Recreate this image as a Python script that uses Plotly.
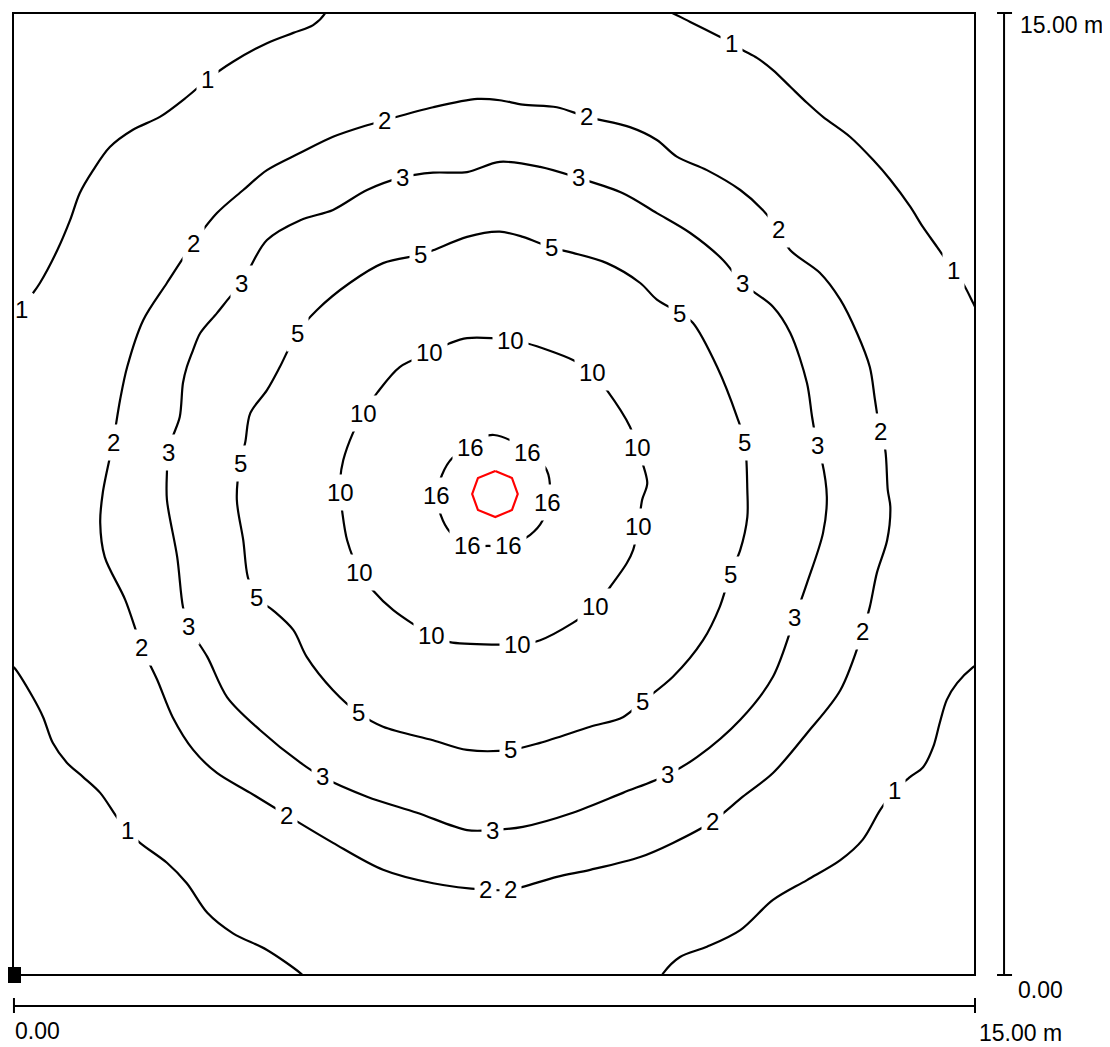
import plotly.graph_objects as go

# ---- data (metres) ----
LEVEL_TEXT = ["1", "2", "3", "5", "10", "16"]

iso1_nw = [(4.90, 15.08), (4.87, 15.00), (4.68, 14.81), (4.37, 14.69), (3.96, 14.53), (3.43, 14.24),
           (3.03, 13.96), (2.71, 13.69), (2.29, 13.38), (1.87, 13.18), (1.51, 12.91), (1.25, 12.55),
           (1.04, 12.19), (0.89, 11.77), (0.69, 11.30), (0.42, 10.79), (0.31, 10.63)]
iso1_ne = [(10.09, 15.08), (10.28, 15.00), (10.56, 14.86), (11.02, 14.63), (11.21, 14.53), (11.38, 14.42),
           (11.60, 14.30), (11.85, 14.11), (12.12, 13.85), (12.38, 13.60), (12.63, 13.38), (13.05, 13.07),
           (13.41, 12.71), (13.68, 12.40), (13.99, 11.98), (14.19, 11.66), (14.41, 11.35), (14.66, 10.99),
           (14.81, 10.79), (14.97, 10.48), (15.06, 10.29)]
iso1_sw = [(-0.06, 4.85), (0.02, 4.79), (0.31, 4.33), (0.47, 4.02), (0.62, 3.62), (0.84, 3.31),
           (1.09, 3.09), (1.36, 2.84), (1.62, 2.46), (1.78, 2.26), (1.98, 2.06), (2.40, 1.75),
           (2.71, 1.43), (3.03, 0.97), (3.43, 0.65), (3.96, 0.39), (4.48, 0.03), (4.57, -0.06)]
iso1_se = [(10.09, -0.06), (10.14, 0.03), (10.40, 0.28), (10.82, 0.44), (11.34, 0.70), (11.85, 1.17),
           (12.38, 1.48), (12.90, 1.79), (13.25, 2.11), (13.52, 2.57), (13.75, 2.88), (13.99, 3.09),
           (14.19, 3.24), (14.35, 3.56), (14.45, 3.93), (14.56, 4.29), (14.72, 4.55), (14.97, 4.80),
           (15.08, 4.87)]
iso1_labels = [(3.03, 13.96), (11.21, 14.53), (14.66, 10.99), (1.78, 2.26), (13.75, 2.88)]
iso1_edge_labels = [(0.14, 10.37)]

iso2 = [(5.80, 13.33), (5.52, 13.25), (4.99, 13.07), (4.48, 12.82), (3.96, 12.55), (3.59, 12.24),
        (3.18, 11.88), (2.81, 11.41), (2.40, 10.79), (2.03, 10.21), (1.78, 9.48), (1.67, 8.97),
        (1.56, 8.31), (1.40, 7.52), (1.36, 7.05), (1.43, 6.52), (1.75, 5.85), (2.01, 5.11),
        (2.25, 4.60), (2.49, 4.02), (2.81, 3.51), (3.18, 3.15), (3.70, 2.84), (4.27, 2.49),
        (4.99, 2.06), (5.77, 1.64), (6.55, 1.43), (7.36, 1.33), (7.75, 1.33), (8.48, 1.53),
        (9.00, 1.64), (9.78, 1.84), (10.29, 2.06), (10.90, 2.39), (11.38, 2.78), (11.85, 3.15),
        (12.38, 3.77), (12.90, 4.44), (13.25, 5.35), (13.36, 5.74), (13.47, 6.27), (13.63, 6.78),
        (13.68, 7.30), (13.64, 7.56), (13.60, 8.19), (13.52, 8.47), (13.44, 8.97), (13.36, 9.48),
        (13.16, 10.01), (12.90, 10.53), (12.58, 10.95), (12.12, 11.30), (11.93, 11.62), (11.69, 11.93),
        (11.34, 12.24), (10.82, 12.55), (10.35, 12.76), (10.04, 13.02), (9.62, 13.22), (8.95, 13.38),
        (8.48, 13.53), (7.95, 13.57), (7.59, 13.64), (7.24, 13.66), (6.55, 13.53), (5.80, 13.33)]
iso2_labels = [(5.80, 13.33), (2.81, 11.41), (1.56, 8.31), (2.01, 5.11), (4.27, 2.49), (7.36, 1.33),
               (7.75, 1.33), (10.90, 2.39), (13.25, 5.35), (13.52, 8.47), (11.93, 11.62), (8.95, 13.38)]

iso3 = [(6.08, 12.44), (5.52, 12.24), (4.99, 11.93), (4.48, 11.77), (3.96, 11.46), (3.70, 11.04),
        (3.57, 10.79), (3.38, 10.57), (3.18, 10.32), (2.92, 10.01), (2.81, 9.75), (2.71, 9.48),
        (2.65, 9.23), (2.60, 8.70), (2.49, 8.39), (2.42, 8.14), (2.40, 7.83), (2.40, 7.41),
        (2.56, 6.52), (2.65, 5.74), (2.74, 5.43), (3.03, 4.96), (3.34, 4.33), (3.85, 3.82),
        (4.48, 3.31), (4.82, 3.09), (5.52, 2.78), (6.30, 2.53), (7.08, 2.26), (7.48, 2.26),
        (7.95, 2.31), (8.73, 2.53), (9.51, 2.84), (10.20, 3.12), (10.67, 3.40), (11.34, 3.98),
        (11.85, 4.65), (12.19, 5.57), (12.38, 6.11), (12.63, 6.89), (12.69, 7.45), (12.61, 8.03),
        (12.54, 8.26), (12.46, 8.70), (12.38, 9.23), (12.12, 10.01), (11.85, 10.42), (11.37, 10.79),
        (11.07, 11.15), (10.56, 11.57), (10.04, 11.88), (9.51, 12.19), (8.81, 12.43), (8.22, 12.60),
        (7.59, 12.68), (7.08, 12.52), (6.55, 12.51), (6.08, 12.44)]
iso3_labels = [(6.08, 12.44), (3.57, 10.79), (2.42, 8.14), (2.74, 5.43), (4.82, 3.09), (7.48, 2.26),
               (10.20, 3.12), (12.19, 5.57), (12.54, 8.26), (11.37, 10.79), (8.81, 12.43)]

iso5 = [(6.35, 11.23), (5.77, 11.10), (5.25, 10.79), (4.74, 10.37), (4.43, 10.01), (4.16, 9.48),
        (3.96, 9.12), (3.70, 8.76), (3.62, 8.30), (3.54, 7.98), (3.49, 7.41), (3.59, 6.78),
        (3.66, 6.21), (3.79, 5.89), (4.05, 5.69), (4.37, 5.38), (4.58, 4.96), (4.99, 4.44),
        (5.38, 4.09), (5.77, 3.87), (6.55, 3.66), (7.08, 3.51), (7.75, 3.51), (8.22, 3.62),
        (9.00, 3.87), (9.51, 4.02), (9.81, 4.26), (10.29, 4.65), (10.76, 5.22), (11.02, 5.74),
        (11.18, 6.24), (11.34, 6.63), (11.45, 7.14), (11.45, 7.56), (11.41, 8.31), (11.29, 8.70),
        (10.98, 9.48), (10.60, 10.17), (10.40, 10.32), (10.04, 10.53), (9.78, 10.79), (9.26, 11.10),
        (8.73, 11.26), (8.40, 11.34), (7.95, 11.51), (7.59, 11.59), (7.08, 11.51), (6.55, 11.30),
        (6.35, 11.23)]
iso5_labels = [(6.35, 11.23), (4.43, 10.01), (3.54, 7.98), (3.79, 5.89), (5.38, 4.09), (7.75, 3.51),
               (9.81, 4.26), (11.18, 6.24), (11.41, 8.31), (10.40, 10.32), (8.40, 11.34)]

iso10 = [(7.75, 9.90), (7.08, 9.93), (6.81, 9.85), (6.50, 9.70), (6.03, 9.48), (5.68, 9.08),
         (5.46, 8.76), (5.30, 8.45), (5.15, 8.03), (5.10, 7.72), (5.10, 7.52), (5.13, 7.25),
         (5.21, 6.78), (5.41, 6.28), (5.61, 6.00), (5.93, 5.69), (6.53, 5.30), (6.81, 5.19),
         (7.59, 5.15), (7.87, 5.15), (8.22, 5.22), (8.73, 5.49), (9.08, 5.74), (9.31, 6.05),
         (9.57, 6.42), (9.67, 6.63), (9.75, 6.99), (9.81, 7.41), (9.89, 7.67), (9.73, 8.23),
         (9.62, 8.55), (9.26, 9.12), (9.03, 9.40), (8.73, 9.59), (8.01, 9.85), (7.75, 9.90)]
iso10_labels = [(7.75, 9.90), (6.50, 9.70), (5.46, 8.76), (5.10, 7.52), (5.41, 6.28), (6.53, 5.30),
                (7.87, 5.15), (9.08, 5.74), (9.75, 6.99), (9.73, 8.23), (9.03, 9.40)]

iso16 = [(7.13, 8.23), (7.28, 8.37), (7.50, 8.42), (7.75, 8.34), (8.03, 8.14), (8.30, 7.91),
         (8.37, 7.67), (8.33, 7.36), (8.26, 7.09), (8.06, 6.86), (7.72, 6.70), (7.41, 6.69),
         (7.09, 6.70), (6.81, 6.91), (6.67, 7.17), (6.61, 7.48), (6.69, 7.80), (6.85, 8.06),
         (7.13, 8.23)]
iso16_labels = [(7.13, 8.23), (8.03, 8.14), (8.33, 7.36), (7.72, 6.70), (7.09, 6.70), (6.61, 7.48)]

max_ring = [(7.52, 7.86), (7.78, 7.75), (7.87, 7.50), (7.78, 7.25), (7.52, 7.14), (7.25, 7.25),
            (7.16, 7.50), (7.25, 7.75), (7.52, 7.86)]

origin_marker = [(0.0, 0.0)]
scale_labels = ["0.00", "15.00 m"]

# ---- figure ----
FONT = "Liberation Sans, Arial, sans-serif"
fig = go.Figure()


def add_curve(pts, color="black", smooth=True):
    fig.add_trace(go.Scatter(
        x=[p[0] for p in pts], y=[p[1] for p in pts], mode="lines",
        line=dict(color=color, width=2.2, shape="spline" if smooth else "linear", smoothing=0.9),
        hoverinfo="skip", showlegend=False))


for piece in (iso1_nw, iso1_ne, iso1_sw, iso1_se, iso2, iso3, iso5, iso10, iso16):
    add_curve(piece)
add_curve(max_ring, color="#ff0000", smooth=False)

fig.add_trace(go.Scatter(
    x=[p[0] for p in origin_marker], y=[p[1] for p in origin_marker], mode="markers",
    marker=dict(symbol="square", size=16, color="black"), cliponaxis=False,
    hoverinfo="skip", showlegend=False))

LABEL_SIZE = 24
annotations = []
for text, labels in zip(LEVEL_TEXT, (iso1_labels, iso2_labels, iso3_labels, iso5_labels,
                                     iso10_labels, iso16_labels)):
    for (lx, ly) in labels:
        annotations.append(dict(x=lx, y=ly, xref="x", yref="y", text=text, showarrow=False,
                                font=dict(family=FONT, size=LABEL_SIZE, color="black"),
                                bgcolor="white", borderpad=4))
for (lx, ly) in iso1_edge_labels:
    annotations.append(dict(x=lx, y=ly, xref="x", yref="y", text=LEVEL_TEXT[0], showarrow=False,
                            font=dict(family=FONT, size=LABEL_SIZE, color="black")))

sfont = dict(family=FONT, size=23, color="black")
annotations += [
    dict(x=0.0, y=-0.058, xref="paper", yref="paper", text=scale_labels[0], showarrow=False,
         xanchor="left", yanchor="middle", font=sfont),
    dict(x=1.002, y=-0.060, xref="paper", yref="paper", text=scale_labels[1], showarrow=False,
         xanchor="left", yanchor="middle", font=sfont),
    dict(x=1.045, y=0.988, xref="paper", yref="paper", text=scale_labels[1], showarrow=False,
         xanchor="left", yanchor="middle", font=sfont),
    dict(x=1.043, y=-0.016, xref="paper", yref="paper", text=scale_labels[0], showarrow=False,
         xanchor="left", yanchor="middle", font=sfont),
]

ln = dict(color="black", width=2)
shapes = [
    dict(type="rect", xref="paper", yref="paper", x0=0, y0=0, x1=1, y1=1, line=ln),
    # horizontal scale bar
    dict(type="line", xref="paper", yref="paper", x0=0.001, x1=1.0, y0=-0.0322, y1=-0.0322, line=ln),
    dict(type="line", xref="paper", yref="paper", x0=0.001, x1=0.001, y0=-0.0239, y1=-0.0395, line=ln),
    dict(type="line", xref="paper", yref="paper", x0=1.0, x1=1.0, y0=-0.0239, y1=-0.0395, line=ln),
    # vertical scale bar
    dict(type="line", xref="paper", yref="paper", x0=1.0302, x1=1.0302, y0=0, y1=1, line=ln),
    dict(type="line", xref="paper", yref="paper", x0=1.0229, x1=1.0385, y0=1, y1=1, line=ln),
    dict(type="line", xref="paper", yref="paper", x0=1.0229, x1=1.0385, y0=0, y1=0, line=ln),
]

# the page body has an 8 px margin, so the figure is 8 px smaller and margins shifted
fig.update_layout(
    width=1102, height=1039,
    margin=dict(l=5, r=135, t=5, b=72, pad=0),
    paper_bgcolor="white", plot_bgcolor="white",
    xaxis=dict(range=[0, 15], visible=False, fixedrange=True),
    yaxis=dict(range=[0, 15], visible=False, fixedrange=True),
    annotations=annotations, shapes=shapes, showlegend=False,
)

fig.write_html("out.html")
